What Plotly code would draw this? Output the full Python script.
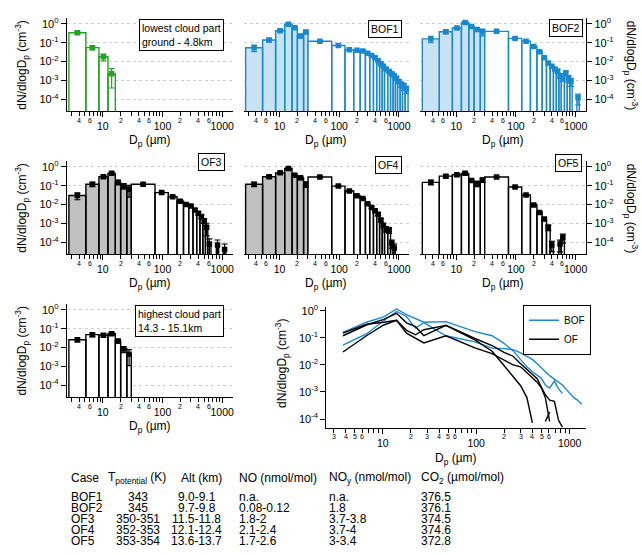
import numpy as np
import plotly.graph_objects as go

W, H = 642, 555

# ---------------- data ----------------
small_edges = [2.7, 5.2, 8.6, 12.2, 16.2, 19.9, 25.3, 30.0]
large_edges = [30, 75, 125, 175, 225, 275, 325, 375, 425, 475, 525, 575,
               650, 725, 800, 875, 950, 1050, 1150, 1275, 1425]

lowest_small = [0.34, 0.055, 0.018, 0.0023]
lowest_small_err = [0.06, 0.012, 0.007, 0.0019]

bof1_small = [0.054, 0.14, 0.43, 0.95, 0.62, 0.23, 0.37]
bof1_small_err = [0.02, 0.03, 0.06, 0.12, 0.08, 0.05, 0.08]
bof1_large = [0.12, 0.071, 0.042, 0.040, 0.037, 0.028, 0.021, 0.016, 0.011, 0.0076,
              0.0056, 0.0040, 0.0030, 0.0023, 0.0018, 0.0013, 0.00089, 0.00063, 0.00050, 0.00035]
bof1_large_err = [0.01, 0.006, 0.004, 0.003, 0.003, 0.002, 0.002, 0.0015, 0.001, 0.0008,
                  0.0006, 0.0005, 0.0004, 0.0004, 0.0003, 0.0003, 0.0002, 0.0002, 0.0002, 0.00015]

bof2_small = [0.16, 0.38, 0.60, 1.17, 0.72, 0.50, 0.38]
bof2_small_err = [0.06, 0.08, 0.08, 0.12, 0.08, 0.10, 0.15]
bof2_large = [0.40, 0.17, 0.12, 0.063, 0.033, 0.016, 0.0085, 0.0056, 0.0040, 0.0032,
              0.0018, 0.0014, 0.0025, 0.0013, 0.00089, None, None, 0.00012, None, None]
bof2_large_err = [0.04, 0.02, 0.012, 0.007, 0.004, 0.002, 0.0012, 0.0008, 0.0007, 0.0006,
                  0.0005, 0.0005, 0.0007, 0.0005, 0.0004, None, None, 0.00007, None, None]

of3_small = [0.030, 0.12, 0.30, 0.45, 0.15, 0.095, 0.065]
of3_small_err = [0.012, 0.03, 0.06, 0.08, 0.04, 0.03, 0.04]
of3_large = [0.12, 0.043, 0.026, 0.015, 0.010, 0.0085, 0.0052, 0.0035, 0.0023, 0.0014,
             0.00062, 0.000081, None, None, 0.000072, None, None, 0.000041, None, None]
of3_large_err = [0.01, 0.005, 0.003, 0.002, 0.0015, 0.0012, 0.0008, 0.0006, 0.0005, 0.0004,
                 0.0004, 0.00007, None, None, 0.00006, None, None, 0.00004, None, None]

of4_small = [0.12, 0.30, 0.48, 0.81, 0.36, 0.26, 0.12]
of4_small_err = [0.03, 0.05, 0.06, 0.10, 0.06, 0.05, 0.04]
of4_large = [0.29, 0.095, 0.052, 0.029, 0.021, 0.011, 0.0069, 0.0047, 0.0031, 0.0015,
             0.00079, 0.00050, 0.00045, 0.000089, 0.000050, None, None, None, None, None]
of4_large_err = [0.02, 0.008, 0.005, 0.003, 0.002, 0.0012, 0.0008, 0.0006, 0.0005, 0.0003,
                 0.0002, 0.00015, 0.00015, 0.00004, 0.00003, None, None, None, None, None]

of5_small = [0.15, 0.32, 0.38, 0.45, 0.19, 0.13, 0.20]
of5_small_err = [0.04, 0.06, 0.06, 0.07, 0.04, 0.04, 0.05]
of5_large = [0.29, 0.085, 0.032, 0.0095, 0.0038, 0.0017, 0.00062, 0.000072, None, None,
             0.000081, 0.00018, None, None, None, None, None, None, None, None]
of5_large_err = [0.02, 0.008, 0.003, 0.001, 0.0005, 0.0003, 0.0002, 0.00004, None, None,
                 0.00005, 0.00009, None, None, None, None, None, None, None, None]

highest_small = [0.026, 0.048, 0.045, 0.054, 0.022, 0.0083, 0.0044]
highest_small_err = [0.006, 0.01, 0.01, 0.01, 0.005, 0.003, 0.0033]

y_tickvals = [1e-4, 1e-3, 1e-2, 1e-1, 1]
y_ticktext = ['10<sup>-4</sup>', '10<sup>-3</sup>', '10<sup>-2</sup>', '10<sup>-1</sup>', '10<sup>0</sup>']
x_tickvals = [10, 100, 1000]
x_ticktext = ['10', '100', '1000']
x_minor_vals = [3, 4, 5, 6, 7, 8, 9, 20, 30, 40, 50, 60, 70, 80, 90,
                200, 300, 400, 500, 600, 700, 800, 900]
bar_minor_label_vals = [4, 6, 20, 40, 60, 200, 400, 600]
bar_minor_label_text = ['4', '6', '2', '4', '6', '2', '4', '6']
line_minor_label_vals = [3, 4, 5, 6, 20, 30, 40, 50, 60, 200, 300, 400, 500, 600]
line_minor_label_text = ['3', '4', '5', '6', '2', '3', '4', '5', '6', '2', '3', '4', '5', '6']

table_header = ['Case', 'T<sub>potential</sub> (K)', 'Alt (km)', 'NO (nmol/mol)',
                'NO<sub>y</sub> (nmol/mol)', 'CO<sub>2</sub> (µmol/mol)']
table_case = ['BOF1', 'BOF2', 'OF3', 'OF4', 'OF5']
table_tpot = ['343', '345', '350-351', '352-353', '353-354']
table_alt = ['9.0-9.1', '9.7-9.8', '11.5-11.8', '12.1-12.4', '13.6-13.7']
table_no = ['n.a.', '0.08-0.12', '1.8-2', '2.1-2.4', '1.7-2.6']
table_noy = ['n.a.', '1.8', '3.7-3.8', '3.7-4', '3-3.4']
table_co2 = ['376.5', '376.1', '374.5', '374.6', '372.8']

# ---------------- style ----------------
BLUE = '#1b88cc'
LIGHTBLUE = '#c6e2f3'
GREEN = '#22a222'
GRAY = '#c0c0c0'
BLACK = '#000000'
FONT = 'Liberation Sans, Arial, Helvetica, sans-serif'
BOTTOM = 1e-7
YT = 'dN/dlogD<sub>p</sub> (cm<sup>-3</sup>)'
XT = 'D<sub>p</sub> (µm)'


def dx(a, b):
    return [a / W, b / W]


def dy(top, bot):
    return [1 - bot / H, 1 - top / H]


def py(p):
    return 1 - p / H


R1 = (14.3, 108.0)
R2 = (158.3, 252.0)
R3 = (302.3, 396.0)
C1 = (67.0, 233.0)
C2 = (244.0, 410.0)
C3 = (421.0, 587.0)
LX = (327.0, 587.0)
LY = (305.0, 427.0)
XRANGE = [np.log10(2.5), np.log10(1500)]


def centers(edges, n):
    return [float(np.sqrt(edges[i] * edges[i + 1])) for i in range(n)]


def rect_trace(edges, vals, fill, edge, k):
    xs, ys = [], []
    for i, v in enumerate(vals):
        if v is None:
            continue
        e0, e1 = edges[i], edges[i + 1]
        xs += [e0, e0, e1, e1, e0, None]
        ys += [BOTTOM, v, v, BOTTOM, BOTTOM, None]
    return go.Scatter(x=xs, y=ys, mode='lines', fill='toself', fillcolor=fill,
                      line=dict(color=edge, width=1.4), xaxis='x%d' % k, yaxis='y%d' % k,
                      showlegend=False, hoverinfo='skip')


def marker_trace(edges, vals, errs, color, k):
    cs = centers(edges, len(vals))
    xs = [c for c, v in zip(cs, vals) if v is not None]
    ys = [v for v in vals if v is not None]
    es = [e for e, v in zip(errs, vals) if v is not None]
    return go.Scatter(x=xs, y=ys, mode='markers',
                      marker=dict(symbol='square', size=5.5, color=color),
                      error_y=dict(type='data', array=es, color=color, thickness=1.2, width=3),
                      xaxis='x%d' % k, yaxis='y%d' % k, showlegend=False, hoverinfo='skip')


panels = [
    dict(k=1, col=C1, row=R1, side='left', s=lowest_small, se=lowest_small_err, l=None, le=None,
         color=GREEN, sfill='white', label='lowest cloud part<br>ground - 4.8km', lab=(224, 15)),
    dict(k=2, col=C2, row=R1, side='none', s=bof1_small, se=bof1_small_err, l=bof1_large, le=bof1_large_err,
         color=BLUE, sfill=LIGHTBLUE, label='BOF1', lab=(403, 16)),
    dict(k=3, col=C3, row=R1, side='right', s=bof2_small, se=bof2_small_err, l=bof2_large, le=bof2_large_err,
         color=BLUE, sfill=LIGHTBLUE, label='BOF2', lab=(584, 15)),
    dict(k=4, col=C1, row=R2, side='left', s=of3_small, se=of3_small_err, l=of3_large, le=of3_large_err,
         color=BLACK, sfill=GRAY, label='OF3', lab=(225, 150)),
    dict(k=5, col=C2, row=R2, side='none', s=of4_small, se=of4_small_err, l=of4_large, le=of4_large_err,
         color=BLACK, sfill=GRAY, label='OF4', lab=(403, 153)),
    dict(k=6, col=C3, row=R2, side='right', s=of5_small, se=of5_small_err, l=of5_large, le=of5_large_err,
         color=BLACK, sfill='white', label='OF5', lab=(583, 151)),
    dict(k=7, col=C1, row=R3, side='left', s=highest_small, se=highest_small_err, l=None, le=None,
         color=BLACK, sfill='white', label='highest cloud part<br>14.3 - 15.1km', lab=(224, 303)),
]

fig = go.Figure()
layout = dict(width=W, height=H, margin=dict(l=0, r=0, t=0, b=0), autosize=False,
              paper_bgcolor='white', plot_bgcolor='white',
              font=dict(family=FONT, size=12, color='black'), showlegend=True)
annotations = []

axis_line = dict(showline=True, linecolor='black', linewidth=1.4, zeroline=False)


def xaxis_dict(k, dom, minor_labels, minor_text, bottom_px):
    d = dict(type='log', range=XRANGE, domain=dom, anchor='y%d' % k,
             tickmode='array', tickvals=x_tickvals, ticktext=x_ticktext,
             ticks='outside', ticklen=5, tickwidth=1.2, tickcolor='black',
             tickfont=dict(size=10.5), showgrid=False,
             minor=dict(tickmode='array', tickvals=x_minor_vals, ticks='outside', ticklen=4,
                        tickwidth=1.2, tickcolor='black', showgrid=False),
             **axis_line)
    for v, t in zip(minor_labels, minor_text):
        annotations.append(dict(x=np.log10(v), xref='x%d' % k, y=py(bottom_px + 9), yref='paper',
                                text=t, showarrow=False, font=dict(size=7), xanchor='center',
                                yanchor='middle'))
    return d


for p in panels:
    k = p['k']
    xa = xaxis_dict(k, dx(*p['col']), bar_minor_label_vals, bar_minor_label_text, p['row'][1])
    ya = dict(type='log', range=[-4.63, 0.3], domain=dy(*p['row']), anchor='x%d' % k,
              tickmode='array', tickvals=y_tickvals, ticktext=y_ticktext,
              showgrid=True, gridcolor='#cfcfcf', gridwidth=1, griddash='dot',
              tickfont=dict(size=11), zeroline=False)
    if p['side'] == 'none':
        ya.update(showline=False, ticks='', showticklabels=False)
    else:
        ya.update(showline=True, linecolor='black', linewidth=1.4, ticks='outside', ticklen=5,
                  tickwidth=1.2, tickcolor='black', side=p['side'])
    layout['xaxis%d' % k] = xa
    layout['yaxis%d' % k] = ya

    n = len(p['s'])
    fig.add_trace(rect_trace(small_edges[:n + 1], p['s'], p['sfill'], p['color'], k))
    if p['l'] is not None:
        fig.add_trace(rect_trace(large_edges, p['l'], 'white', p['color'], k))
    fig.add_trace(marker_trace(small_edges[:n + 1], p['s'], p['se'], p['color'], k))
    if p['l'] is not None:
        fig.add_trace(marker_trace(large_edges, p['l'], p['le'], p['color'], k))

    annotations.append(dict(x=p['lab'][0] / W, y=py(p['lab'][1]), xref='paper', yref='paper',
                            text=p['label'], showarrow=False, xanchor='right', yanchor='top',
                            align='left', bordercolor='black', borderwidth=1, borderpad=2,
                            bgcolor='white', font=dict(size=10.5)))
    cx = (p['col'][0] + p['col'][1]) / 2
    annotations.append(dict(x=cx / W, y=py(p['row'][1] + 30), xref='paper', yref='paper',
                            text=XT, showarrow=False, xanchor='center', yanchor='middle',
                            font=dict(size=12)))
    cy = (p['row'][0] + p['row'][1]) / 2
    if p['side'] == 'left':
        annotations.append(dict(x=22 / W, y=py(cy), xref='paper', yref='paper', text=YT,
                                textangle=-90, showarrow=False, xanchor='center', yanchor='middle',
                                font=dict(size=12)))
    elif p['side'] == 'right':
        annotations.append(dict(x=632 / W, y=py(cy), xref='paper', yref='paper', text=YT,
                                textangle=90, showarrow=False, xanchor='center', yanchor='middle',
                                font=dict(size=12)))

# ---------------- combined line plot ----------------
k = 8
layout['xaxis8'] = xaxis_dict(k, dx(*LX), line_minor_label_vals, line_minor_label_text, LY[1])
layout['yaxis8'] = dict(type='log', range=[-4.33, 0.15], domain=dy(*LY), anchor='x8',
                        tickmode='array', tickvals=y_tickvals, ticktext=y_ticktext,
                        ticks='outside', ticklen=5, tickwidth=1.2, tickcolor='black',
                        tickfont=dict(size=11), showgrid=False, **axis_line)

all_centers = centers(small_edges, 7) + centers(large_edges, 20)
line_cases = [('BOF', bof1_small + bof1_large, BLUE, True),
              ('BOF', bof2_small + bof2_large, BLUE, False),
              ('OF', of3_small + of3_large, BLACK, True),
              ('OF', of4_small + of4_large, BLACK, False),
              ('OF', of5_small + of5_large, BLACK, False)]
for name, vals, col, show in line_cases:
    fig.add_trace(go.Scatter(x=all_centers, y=vals, mode='lines', name=name, legendgroup=name,
                             showlegend=show, line=dict(color=col, width=1.4),
                             connectgaps=False, xaxis='x8', yaxis='y8', hoverinfo='skip'))

annotations.append(dict(x=(LX[0] + LX[1]) / 2 / W, y=py(LY[1] + 31), xref='paper', yref='paper',
                        text=XT, showarrow=False, xanchor='center', yanchor='middle',
                        font=dict(size=12)))
annotations.append(dict(x=283 / W, y=py(362), xref='paper', yref='paper', text=YT,
                        textangle=-90, showarrow=False, xanchor='center', yanchor='middle',
                        font=dict(size=12)))

layout['legend'] = dict(x=592 / W, xanchor='right', y=py(303), yanchor='top',
                        bordercolor='black', borderwidth=1, bgcolor='white',
                        font=dict(size=10), itemwidth=30, tracegroupgap=0)

# ---------------- table ----------------
col_x = [69, 106, 179, 237, 328, 420]
for x, t in zip(col_x, table_header):
    annotations.append(dict(x=x / W, y=py(477.5), xref='paper', yref='paper', text=t,
                            showarrow=False, xanchor='left', yanchor='middle', font=dict(size=12)))
row_y = [497, 508, 519, 530, 541]
for i, yy in enumerate(row_y):
    cells = [(69, table_case[i], 'left'), (138, table_tpot[i], 'center'),
             (197, table_alt[i], 'center'), (237, table_no[i], 'left'),
             (328, table_noy[i], 'left'), (420, table_co2[i], 'left')]
    for x, t, anc in cells:
        annotations.append(dict(x=x / W, y=py(yy), xref='paper', yref='paper', text=t,
                                showarrow=False, xanchor=anc, yanchor='middle', font=dict(size=12)))

layout['annotations'] = annotations
fig.update_layout(**layout)
fig.write_html("out.html", config={'displayModeBar': False},
               post_script="document.body.style.margin='0px';")
